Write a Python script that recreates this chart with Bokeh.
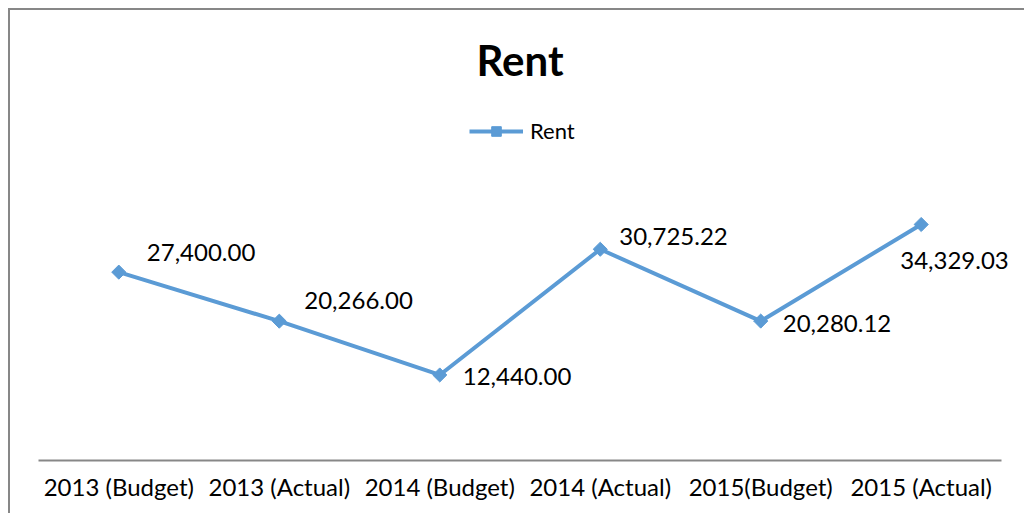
import math
from bokeh.plotting import figure
from bokeh.models import ColumnDataSource, FactorRange, Range1d, Legend, LegendItem, Label
from bokeh.core.properties import value
from bokeh.embed import file_html
from bokeh.resources import INLINE

categories = ["2013 (Budget)", "2013 (Actual)", "2014 (Budget)", "2014 (Actual)", "2015(Budget)", "2015 (Actual)"]
rent = [27400.00, 20266.00, 12440.00, 30725.22, 20280.12, 34329.03]

# label placement offsets (pixels) relative to each point
label_dx = [28, 25, 23, 19, 22, -21]
label_dy = [-20, -21, 2, -13, 2, 36]

FONT = "Lato"
BLUE = "#5B9BD5"
GRAY = "#878787"

Y_MAX = 40000          # value at top of the plotting area
PLOT_H = 275           # px height of plotting area (0..Y_MAX)
FRAME_H = 450          # frame extends up to the top of the chart for title/legend

src = ColumnDataSource(dict(
    x=categories, y=rent,
    label=["{:,.2f}".format(v) for v in rent],
    dx=label_dx, dy=label_dy,
))

p = figure(
    x_range=FactorRange(*categories, range_padding=0.1, range_padding_units="absolute"),
    y_range=Range1d(0, Y_MAX * FRAME_H / PLOT_H),
    width=1016, height=505,
    output_backend="svg", toolbar_location=None,
    y_axis_location=None,
    min_border_left=12, min_border_right=9, min_border_top=0, min_border_bottom=55,
)
p.styles = {"border-left": f"2px solid {GRAY}", "border-top": f"2px solid {GRAY}",
            "margin-left": "8px", "margin-top": "8px"}
p.outline_line_color = None
p.xgrid.visible = False
p.ygrid.visible = False
p.background_fill_color = "white"
p.border_fill_color = "white"

ax = p.xaxis[0]
ax.bounds = (0, len(categories))
ax.axis_line_color = GRAY
ax.axis_line_width = 2
ax.major_tick_line_color = None
ax.minor_tick_line_color = None
ax.major_label_text_font = FONT
ax.major_label_text_font_size = "24px"
ax.major_label_text_color = "black"
ax.major_label_standoff = 5

ln = p.line("x", "y", source=src, line_color=BLUE, line_width=4)
mk = p.scatter("x", "y", source=src, marker="square", angle=math.pi / 4, size=10,
               fill_color=BLUE, line_color=BLUE)

p.text("x", "y", text="label", source=src, x_offset="dx", y_offset="dy",
       text_font=value(FONT), text_font_size="24px", text_color="black",
       text_align="left", text_baseline="alphabetic")

title = Label(x=497.5, y=401, x_units="screen", y_units="screen", text="Rent",
              text_font=FONT, text_font_style="bold", text_font_size="42px",
              text_align="center", text_baseline="alphabetic", text_color="black")
p.add_layout(title)

legend = Legend(items=[LegendItem(label="Rent", renderers=[ln, mk])],
                location=(447, 316), orientation="horizontal",
                glyph_width=54, glyph_height=24, label_height=24, label_standoff=7,
                padding=0, margin=0, spacing=0,
                label_text_font=FONT, label_text_font_size="22px", label_text_color="black",
                border_line_color=None, background_fill_alpha=0)
p.add_layout(legend)

open("out.html", "w").write(file_html(p, INLINE))
